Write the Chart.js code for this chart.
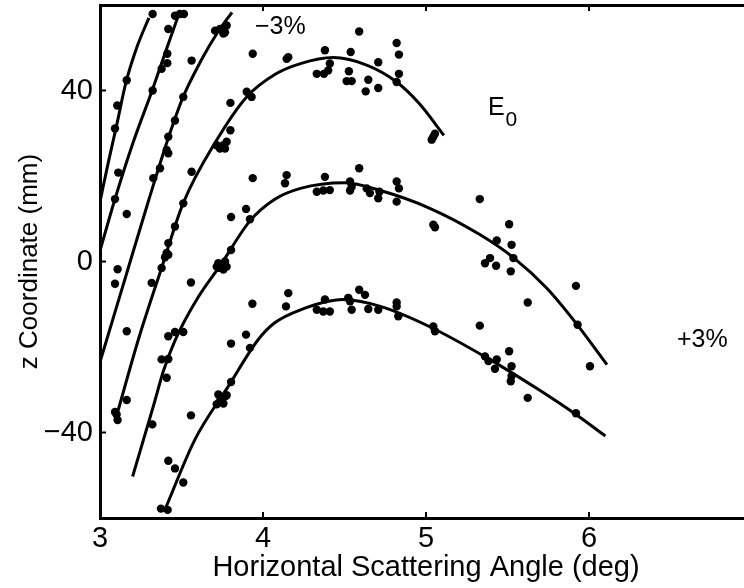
<!DOCTYPE html>
<html>
<head>
<meta charset="utf-8">
<script src="https://cdn.jsdelivr.net/npm/chart.js@4.4.1/dist/chart.umd.min.js"></script>
<style>
  html, body { margin: 0; padding: 0; background: #fff; overflow: hidden; }
  #wrap { width: 760px; height: 588px; }
</style>
</head>
<body>
<div id="wrap"><canvas id="scatterChart" width="760" height="588"></canvas></div>
<script>
const xTicks = [3, 4, 5, 6];
const yTicks = [-40, 0, 40];

// fitted curves, left to right
const fit1X = [3.00, 3.05, 3.10, 3.16, 3.23, 3.30];
const fit1Y = [14.0, 23.0, 31.5, 42.0, 50.5, 57.0];
const fit2X = [3.00, 3.09, 3.20, 3.32, 3.42, 3.49];
const fit2Y = [2.5, 14.4, 27.5, 40.0, 51.0, 58.5];
const fit3X = [3.00, 3.15, 3.30, 3.42, 3.51, 3.62, 3.72, 3.81];
const fit3Y = [-23.5, -4.5, 14.5, 29.0, 38.5, 47.0, 53.5, 58.3];
const fit4X = [3.11, 3.235, 3.378, 3.51, 3.716, 3.90, 4.08, 4.23, 4.43, 4.64, 4.82, 4.96, 5.11];
const fit4Y = [-35.0, -18.3, -1.5, 13.6, 28.4, 38.5, 43.9, 46.3, 47.7, 45.9, 42.0, 36.9, 29.5];
const fit5X = [3.20, 3.33, 3.39, 3.46, 3.60, 3.74, 3.92, 4.07, 4.23, 4.50, 4.72, 5.02, 5.33, 5.54, 5.74, 5.92, 6.11];
const fit5Y = [-50.3, -33.5, -25.5, -18.5, -8.5, -0.8, 9.5, 14.5, 17.1, 18.4, 16.6, 12.5, 6.3, 0.8, -6.2, -14.4, -24.1];
const fit6X = [3.40, 3.583, 3.787, 3.97, 4.07, 4.23, 4.49, 4.72, 5.02, 5.39, 5.70, 5.92, 6.10];
const fit6Y = [-57.9, -41.6, -29.2, -18.3, -14.4, -11.3, -8.9, -10.5, -15.2, -22.9, -30.2, -35.8, -40.8];

// measured points
const dotX = [
  3.323, 3.419, 3.46, 3.49, 3.515, 3.164, 3.106, 3.092, 3.112, 3.323,
  3.378, 3.413, 3.413, 3.327, 3.368, 3.706, 3.736, 3.767, 3.777, 3.757,
  3.511, 3.46, 3.419, 3.409, 3.419, 3.562, 3.562, 3.937, 3.90, 3.93,
  3.80, 3.716, 3.757, 3.777, 3.80, 3.736, 3.767, 3.937, 4.145, 4.155,
  4.33, 4.145, 4.135, 4.33, 4.59, 4.38, 4.538, 4.82, 4.834, 4.374,
  4.40, 4.41, 4.527, 4.513, 4.544, 4.646, 4.707, 4.63, 4.707, 4.834,
  4.82, 5.045, 5.055, 5.035, 4.59, 4.38, 4.37, 4.41, 4.534, 4.534,
  4.544, 4.636, 4.656, 4.714, 4.82, 4.834, 5.33, 4.707, 4.82, 5.045,
  5.055, 5.51, 5.434, 5.525, 5.536, 5.393, 5.362, 5.43, 5.52, 5.624,
  4.33, 4.37, 4.41, 4.38, 4.523, 4.534, 4.544, 4.59, 4.626, 4.646,
  4.707, 4.82, 4.82, 4.83, 5.045, 5.055, 5.33, 5.51, 5.362, 5.383,
  5.434, 5.423, 5.525, 5.525, 5.92, 5.93, 6.006, 5.92, 5.52, 5.624,
  3.092, 3.164, 3.511, 3.46, 3.419, 3.409, 3.419, 3.399, 3.378, 3.317,
  3.108, 3.092, 3.164, 3.558, 3.804, 3.896, 3.92, 3.804, 3.726, 3.746,
  3.767, 3.736, 3.777, 3.757, 3.716, 3.935, 3.896, 3.804, 3.92, 3.419,
  3.46, 3.511, 3.378, 3.419, 3.409, 3.804, 3.726, 3.767, 3.736, 3.777,
  3.716, 3.757, 3.558, 3.164, 3.092, 3.102, 3.108, 3.321, 3.419, 3.46,
  3.511, 3.374, 3.415, 4.155, 4.141
];
const dotY = [
  57.9, 54.4, 57.5, 57.9, 57.9, 42.4, 36.5, 31.1, 20.8, 40.0,
  45.1, 46.4, 48.6, 19.5, 21.8, 54.0, 54.4, 53.6, 55.2, 53.3,
  38.5, 33.0, 29.2, 26.1, 25.3, 47.0, 21.0, 48.6, 39.7, 38.5,
  37.1, 27.2, 27.2, 28.0, 30.7, 26.4, 26.4, 19.5, 47.4, 47.8,
  43.9, 20.2, 18.3, 16.3, 53.8, 49.4, 49.0, 51.1, 48.4, 43.9,
  44.7, 46.3, 44.5, 42.2, 42.2, 42.5, 46.6, 39.8, 40.6, 43.9,
  42.0, 29.2, 29.9, 28.5, 21.8, 19.8, 16.6, 16.7, 18.7, 16.6,
  17.5, 17.1, 16.0, 16.3, 18.7, 17.1, 14.6, 14.8, 14.0, 8.6,
  8.0, 8.7, 4.9, 3.9, 0.8, 0.8, -0.4, -1.0, -2.3, -9.6,
  -11.3, -11.7, -11.7, -8.9, -8.5, -9.3, -11.3, -6.6, -7.8, -11.1,
  -11.3, -9.6, -10.5, -12.8, -15.2, -16.3, -15.0, -21.0, -22.2, -23.3,
  -22.9, -25.1, -24.5, -26.8, -5.7, -14.8, -24.5, -35.5, -28.0, -31.9,
  14.6, 11.1, 13.6, 8.2, 4.3, 2.0, 1.6, 1.0, -1.5, -5.0,
  -1.8, -5.2, -16.3, -4.9, 10.4, 12.3, 9.9, 2.7, -0.4, -0.8,
  0.0, -1.5, -1.2, -1.9, -1.2, -9.9, -17.1, -19.2, -20.2, -17.5,
  -16.5, -16.5, -22.9, -22.8, -27.2, -28.2, -31.1, -31.5, -32.7, -31.3,
  -33.4, -33.2, -36.0, -32.4, -35.2, -35.8, -37.1, -38.1, -46.6, -48.4,
  -51.7, -57.8, -58.1, -7.4, -10.5
];

// text labels inside the plot, in data units
const notes = [
  { text: '\u22123%', x: 3.951, y: 54.8 },
  { text: 'E', sub: '0', x: 5.38, y: 35.8 },
  { text: '+3%', x: 6.54, y: -18.3 }
];

const fontFamily = "'Liberation Sans', Arial, Helvetica, sans-serif";

function toPoints(xs, ys) {
  return xs.map((x, i) => ({ x: x, y: ys[i] }));
}

// the layout would otherwise reserve room for half a tick label at the ends
function noEdgePadding(s) {
  s.paddingTop = 0;
  s.paddingBottom = 0;
  s.paddingLeft = 0;
  s.paddingRight = 0;
}

const curves = [[fit1X, fit1Y], [fit2X, fit2Y], [fit3X, fit3Y], [fit4X, fit4Y], [fit5X, fit5Y], [fit6X, fit6Y]];

const datasets = curves.map(([xs, ys]) => ({
  data: toPoints(xs, ys),
  showLine: true,
  borderColor: '#000',
  borderWidth: 3,
  pointRadius: 0,
  cubicInterpolationMode: 'monotone',
  fill: false
}));

datasets.push({
  data: toPoints(dotX, dotY),
  showLine: false,
  backgroundColor: '#000',
  borderWidth: 0,
  pointRadius: 4.2
});

// inward tick marks and the in-plot labels
const axisMarks = {
  id: 'axisMarks',
  afterDatasetsDraw(chart) {
    const { ctx, chartArea, scales } = chart;
    ctx.save();
    ctx.strokeStyle = '#000';
    ctx.lineWidth = 2;
    xTicks.forEach(v => {
      const px = scales.x.getPixelForValue(v);
      ctx.beginPath();
      ctx.moveTo(px, chartArea.bottom);
      ctx.lineTo(px, chartArea.bottom - 6);
      ctx.moveTo(px, chartArea.top);
      ctx.lineTo(px, chartArea.top + 6);
      ctx.stroke();
    });
    yTicks.forEach(v => {
      const py = scales.y.getPixelForValue(v);
      ctx.beginPath();
      ctx.moveTo(chartArea.left, py);
      ctx.lineTo(chartArea.left + 6, py);
      ctx.stroke();
    });

    ctx.fillStyle = '#000';
    ctx.textAlign = 'left';
    ctx.textBaseline = 'middle';
    notes.forEach(n => {
      const px = scales.x.getPixelForValue(n.x);
      const py = scales.y.getPixelForValue(n.y);
      ctx.font = '25px ' + fontFamily;
      ctx.fillText(n.text, px, py);
      if (n.sub) {
        const w = ctx.measureText(n.text).width;
        ctx.font = '21px ' + fontFamily;
        ctx.fillText(n.sub, px + w + 1, py + 12);
      }
    });
    ctx.restore();
  }
};

const ctx = document.getElementById('scatterChart').getContext('2d');
const scatterChart = new Chart(ctx, {
  type: 'scatter',
  data: { datasets: datasets },
  options: {
    responsive: false,
    animation: false,
    layout: { padding: { left: 0, right: 8, top: 0, bottom: 0 } },
    plugins: { legend: { display: false }, tooltip: { enabled: false } },
    scales: {
      x: {
        type: 'linear',
        position: 'bottom',
        min: 3,
        max: 7,
        afterBuildTicks: s => { s.ticks = xTicks.map(v => ({ value: v })); },
        afterFit: s => { s.height = 70; noEdgePadding(s); },
        ticks: { color: '#000', font: { family: fontFamily, size: 29 }, padding: 4, maxRotation: 0, autoSkip: false },
        grid: { display: false, drawTicks: false },
        border: { color: '#000', width: 3 },
        title: {
          display: true,
          text: 'Horizontal Scattering Angle (deg)',
          color: '#000',
          font: { family: fontFamily, size: 29 },
          padding: { top: 0, bottom: 3 }
        }
      },
      xTop: {
        type: 'linear',
        position: 'top',
        min: 3,
        max: 7,
        afterFit: s => { s.height = 5; noEdgePadding(s); },
        ticks: { display: false },
        grid: { display: false, drawTicks: false },
        border: { color: '#000', width: 3 }
      },
      y: {
        type: 'linear',
        position: 'left',
        min: -60,
        max: 60,
        afterBuildTicks: s => { s.ticks = yTicks.map(v => ({ value: v })); },
        afterFit: s => { s.width = 100; noEdgePadding(s); },
        ticks: {
          color: '#000',
          font: { family: fontFamily, size: 29 },
          padding: 7,
          callback: v => v < 0 ? '\u2212' + Math.abs(v) : String(v)
        },
        grid: { display: false, drawTicks: false },
        border: { color: '#000', width: 3 },
        title: {
          display: true,
          text: 'z Coordinate (mm)',
          color: '#000',
          font: { family: fontFamily, size: 26 },
          padding: { top: 14, bottom: 0 }
        }
      }
    }
  },
  plugins: [axisMarks]
});
</script>
</body>
</html>
